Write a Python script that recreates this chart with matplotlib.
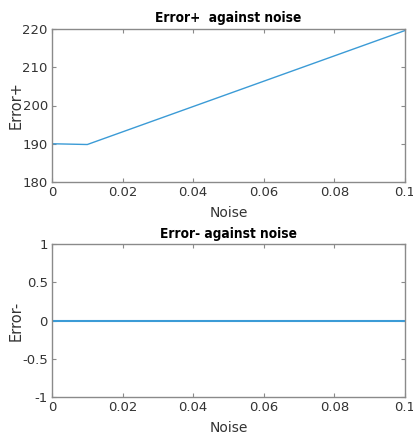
import matplotlib.pyplot as plt

# Data
noise = [0.0, 0.01, 0.1]
err_plus = [190.0, 189.8, 219.6]
err_minus = [0.0, 0.0, 0.0]

xticks = [0, 0.02, 0.04, 0.06, 0.08, 0.1]
xticklabels = ["0", "0.02", "0.04", "0.06", "0.08", "0.1"]

plt.rcParams['font.family'] = ['Liberation Sans Narrow', 'DejaVu Sans']

fig = plt.figure(figsize=(4.14, 4.37), dpi=100)
W, H = 414, 437


def make_axes(top, bottom):
    return fig.add_axes([52 / W, 1 - bottom / H, (405 - 52) / W, (bottom - top) / H])


def style(ax):
    for s in ax.spines.values():
        s.set_color('#8a8a8a')
        s.set_linewidth(1.0)
    ax.tick_params(direction='in', top=True, right=True, length=3,
                   colors='#8a8a8a', labelcolor='#333333', labelsize=9.5, pad=3)
    ax.set_xlim(0, 0.1)
    ax.set_xticks(xticks)
    ax.set_xticklabels(xticklabels)
    ax.yaxis.set_label_coords(-0.08, 0.5)
    ax.xaxis.set_label_coords(0.5, -0.16)


line_color = '#3b9bd6'
title_kw = dict(fontsize=9.8, fontweight='bold', fontstretch='condensed',
                family=['DejaVu Sans'])
xlabel_kw = dict(fontsize=10, color='#333333')
ylabel_kw = dict(fontsize=10.5, color='#333333', family=['DejaVu Sans'])

ax1 = make_axes(29, 182)
ax1.plot(noise, err_plus, color=line_color, lw=1.0)
ax1.set_ylim(180, 220)
ax1.set_yticks([180, 190, 200, 210, 220])
style(ax1)
ax1.set_title("Error+  against noise", pad=5, **title_kw)
ax1.set_xlabel("Noise", **xlabel_kw)
ax1.set_ylabel("Error+", **ylabel_kw)

ax2 = make_axes(244, 397)
ax2.plot(noise, err_minus, color=line_color, lw=1.5)
ax2.set_ylim(-1, 1)
ax2.set_yticks([-1, -0.5, 0, 0.5, 1])
ax2.set_yticklabels(["-1", "-0.5", "0", "0.5", "1"])
style(ax2)
ax2.set_title("Error- against noise", pad=4, **title_kw)
ax2.set_xlabel("Noise", **xlabel_kw)
ax2.set_ylabel("Error-", **ylabel_kw)

plt.savefig("out.png", dpi=100)
